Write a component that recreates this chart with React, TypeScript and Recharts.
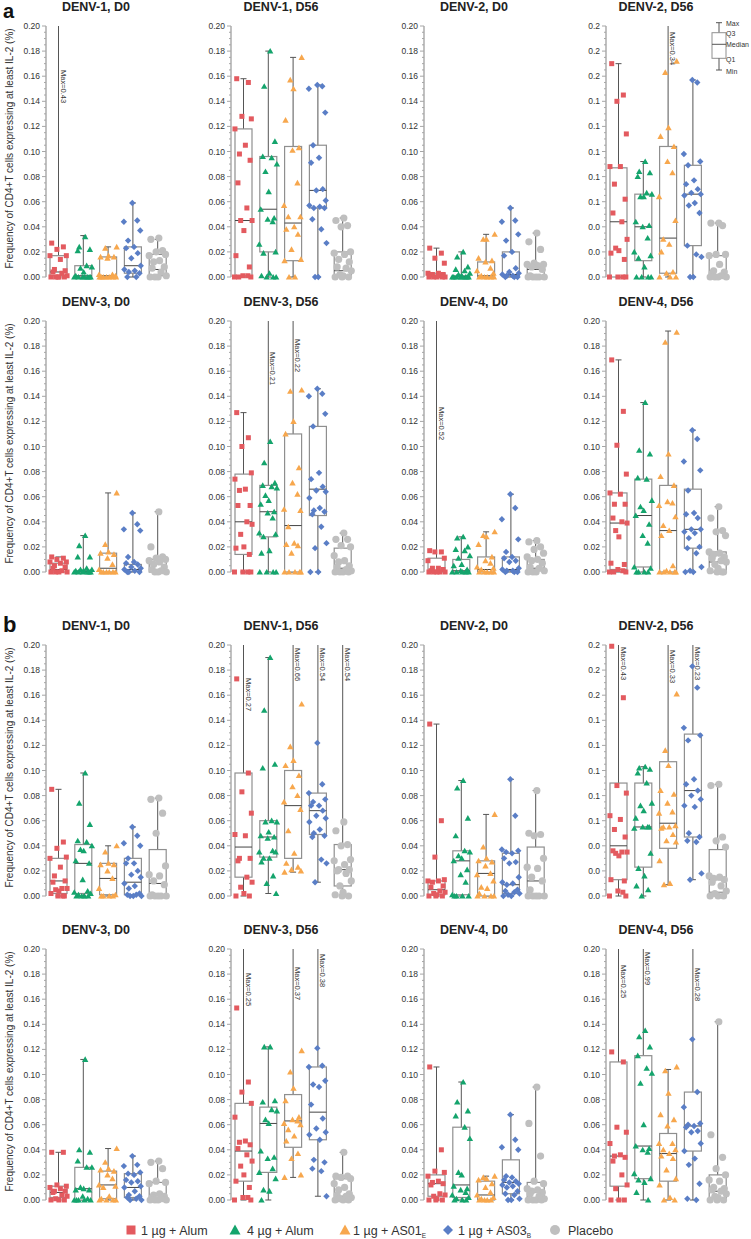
import React from "react";
import { Bar, ComposedChart, Scatter, XAxis, YAxis } from "recharts";

// groups, in the order they are drawn in every panel
const GROUPS = ["1 µg + Alum", "4 µg + Alum", "1 µg + AS01", "1 µg + AS03", "Placebo"];
const GROUP_SUB = ["", "", "E", "B", ""];
const COLORS = ["#e35a5f", "#14a46c", "#f7a74d", "#5a7ec6", "#bfbfbf"];

const TICKS = [0, 0.02, 0.04, 0.06, 0.08, 0.1, 0.12, 0.14, 0.16, 0.18, 0.2];
const Y_MAX = 0.2;
const Y_LABEL = "Frequency of CD4+T cells expressing at least IL-2 (%)";
const KEY_LABELS = ["Max", "Q3", "Median", "Q1", "Min"];

// ---- section a ----
// points per group: red, green, orange, blue, grey
const A_D1_D0 = [
  [0.027, 0.024, 0.022, 0.017, 0.017, 0.014, 0.006, 0.005, 0.004, 0.003, 0.001, 0, 0, 0, 0, 0],
  [0.032, 0.024, 0.022, 0.021, 0.009, 0.008, 0.007, 0.004, 0.001, 0, 0, 0, 0, 0, 0, 0],
  [0.024, 0.023, 0.017, 0.016, 0.016, 0.015, 0.002, 0.002, 0.001, 0, 0, 0, 0, 0, 0, 0],
  [0.059, 0.045, 0.044, 0.037, 0.029, 0.024, 0.023, 0.019, 0.015, 0.009, 0.006, 0.005, 0.004, 0.003, 0, 0],
  [0.031, 0.03, 0.021, 0.02, 0.018, 0.017, 0.013, 0.012, 0.008, 0.007, 0.004, 0.001, 0, 0, 0],
];
// [min, q1, median, q3, max]
const A_D1_D0_BOX = [[0, 0.001, 0.004, 0.017, 0.43], [0, 0, 0.001, 0.009, 0.033], [0, 0, 0.001, 0.016, 0.024], [0, 0.003, 0.009, 0.024, 0.059], [0, 0.001, 0.006, 0.018, 0.03]];

const A_D1_D56 = [
  [0.158, 0.155, 0.128, 0.126, 0.118, 0.105, 0.098, 0.093, 0.075, 0.055, 0.045, 0.045, 0.037, 0.017, 0.008, 0.001, 0.001, 0, 0, 0],
  [0.18, 0.152, 0.108, 0.096, 0.095, 0.09, 0.084, 0.068, 0.054, 0.047, 0.046, 0.044, 0.026, 0.02, 0.019, 0.003, 0.001, 0, 0, 0],
  [0.175, 0.157, 0.15, 0.125, 0.103, 0.101, 0.075, 0.057, 0.048, 0.048, 0.04, 0.038, 0.034, 0.022, 0.014, 0.013, 0, 0],
  [0.153, 0.152, 0.15, 0.131, 0.105, 0.095, 0.091, 0.07, 0.069, 0.061, 0.057, 0.056, 0.055, 0.055, 0.046, 0.038, 0.027, 0, 0],
  [0.047, 0.045, 0.041, 0.04, 0.02, 0.019, 0.018, 0.014, 0.012, 0.008, 0.007, 0.005, 0.002, 0.001, 0, 0, 0],
];
const A_D1_D56_BOX = [[0, 0.001, 0.045, 0.118, 0.158], [0, 0.02, 0.054, 0.096, 0.18], [0, 0.013, 0.043, 0.104, 0.175], [0, 0.055, 0.069, 0.105, 0.153], [0, 0.001, 0.005, 0.02, 0.047]];

const A_D2_D0 = [
  [0.023, 0.019, 0.015, 0.011, 0.003, 0.003, 0.002, 0.002, 0.002, 0.001, 0, 0, 0, 0, 0],
  [0.02, 0.016, 0.008, 0.006, 0.005, 0.003, 0.002, 0.001, 0, 0, 0, 0, 0, 0, 0, 0],
  [0.034, 0.03, 0.03, 0.015, 0.013, 0.012, 0.007, 0.005, 0.003, 0.001, 0, 0, 0, 0, 0],
  [0.055, 0.045, 0.044, 0.034, 0.029, 0.02, 0.017, 0.007, 0.004, 0.003, 0.002, 0.001, 0.001, 0, 0, 0],
  [0.035, 0.028, 0.022, 0.011, 0.01, 0.01, 0.009, 0.008, 0.006, 0.001, 0, 0, 0, 0, 0],
];
const A_D2_D0_BOX = [[0, 0, 0.001, 0.003, 0.023], [0, 0, 0.0003, 0.001, 0.02], [0, 0, 0.001, 0.012, 0.034], [0, 0.001, 0.002, 0.02, 0.055], [0, 0, 0.006, 0.009, 0.035]];

const A_D2_D56 = [
  [0.17, 0.145, 0.14, 0.114, 0.088, 0.088, 0.074, 0.062, 0.051, 0.044, 0.03, 0.023, 0.021, 0.019, 0.014, 0, 0, 0, 0],
  [0.092, 0.084, 0.083, 0.08, 0.067, 0.066, 0.064, 0.064, 0.044, 0.041, 0.04, 0.031, 0.02, 0.017, 0.015, 0.008, 0, 0, 0, 0],
  [0.172, 0.163, 0.119, 0.112, 0.104, 0.092, 0.083, 0.064, 0.045, 0.03, 0.026, 0.02, 0.004, 0.003, 0, 0, 0],
  [0.157, 0.155, 0.098, 0.092, 0.089, 0.077, 0.074, 0.07, 0.067, 0.066, 0.065, 0.059, 0.057, 0.051, 0.025, 0.018, 0.016, 0, 0],
  [0.043, 0.043, 0.041, 0.018, 0.018, 0.017, 0.01, 0.005, 0.004, 0.003, 0.001, 0, 0, 0, 0],
];
const A_D2_D56_BOX = [[0, 0, 0.044, 0.087, 0.17], [0, 0.013, 0.04, 0.066, 0.092], [0, 0.003, 0.031, 0.104, 0.34], [0, 0.025, 0.066, 0.089, 0.157], [0, 0, 0.001, 0.017, 0.043]];

const A_D3_D0 = [
  [0.012, 0.011, 0.01, 0.008, 0.008, 0.007, 0.005, 0.004, 0.003, 0.001, 0, 0, 0, 0],
  [0.029, 0.021, 0.012, 0.012, 0.003, 0.002, 0.002, 0.001, 0.001, 0, 0, 0, 0, 0, 0],
  [0.063, 0.022, 0.016, 0.015, 0.014, 0.011, 0.006, 0.002, 0, 0, 0, 0, 0, 0],
  [0.047, 0.038, 0.034, 0.033, 0.012, 0.008, 0.007, 0.006, 0.004, 0.003, 0.002, 0.001, 0, 0, 0],
  [0.048, 0.02, 0.012, 0.011, 0.01, 0.009, 0.008, 0.006, 0.004, 0.002, 0.001, 0, 0, 0],
];
const A_D3_D0_BOX = [[0, 0, 0.002, 0.007, 0.012], [0, 0, 0.0005, 0.001, 0.029], [0, 0, 0.003, 0.015, 0.063], [0, 0.0005, 0.002, 0.006, 0.047], [0, 0, 0.002, 0.01, 0.048]];

const A_D3_D56 = [
  [0.127, 0.107, 0.1, 0.079, 0.074, 0.066, 0.065, 0.053, 0.053, 0.04, 0.038, 0.03, 0.02, 0.019, 0.014, 0, 0, 0, 0],
  [0.104, 0.087, 0.071, 0.069, 0.068, 0.067, 0.061, 0.057, 0.054, 0.048, 0.047, 0.043, 0.031, 0.03, 0.028, 0.017, 0.015, 0, 0, 0, 0],
  [0.145, 0.144, 0.12, 0.11, 0.083, 0.071, 0.062, 0.05, 0.049, 0.036, 0.023, 0.022, 0.021, 0.015, 0, 0, 0, 0, 0],
  [0.146, 0.142, 0.14, 0.126, 0.116, 0.079, 0.074, 0.068, 0.065, 0.064, 0.059, 0.051, 0.049, 0.048, 0.046, 0.036, 0.023, 0.019, 0, 0],
  [0.031, 0.026, 0.026, 0.021, 0.02, 0.013, 0.009, 0.008, 0.005, 0.004, 0.002, 0.001, 0, 0, 0, 0],
];
const A_D3_D56_BOX = [[0, 0.014, 0.04, 0.078, 0.127], [0, 0.028, 0.048, 0.069, 0.21], [0, 0, 0.037, 0.11, 0.22], [0, 0.045, 0.066, 0.116, 0.146], [0, 0.001, 0.003, 0.019, 0.031]];

const A_D4_D0 = [
  [0.017, 0.016, 0.016, 0.011, 0.009, 0.003, 0.003, 0.002, 0.001, 0, 0, 0, 0, 0],
  [0.028, 0.027, 0.02, 0.018, 0.017, 0.013, 0.011, 0.006, 0.005, 0.002, 0.001, 0, 0, 0, 0, 0],
  [0.032, 0.029, 0.028, 0.022, 0.012, 0.009, 0.007, 0.004, 0.003, 0.002, 0, 0, 0, 0, 0],
  [0.062, 0.051, 0.042, 0.026, 0.016, 0.012, 0.011, 0.009, 0.008, 0.003, 0.002, 0.001, 0.001, 0, 0, 0],
  [0.025, 0.024, 0.02, 0.018, 0.015, 0.012, 0.01, 0.009, 0.007, 0.004, 0.003, 0.001, 0, 0, 0],
];
const A_D4_D0_BOX = [[0, 0, 0.001, 0.011, 0.52], [0, 0, 0.001, 0.01, 0.028], [0, 0, 0.002, 0.012, 0.032], [0, 0.001, 0.002, 0.012, 0.062], [0, 0.001, 0.003, 0.01, 0.025]];

const A_D4_D56 = [
  [0.169, 0.128, 0.101, 0.078, 0.063, 0.062, 0.054, 0.054, 0.043, 0.04, 0.039, 0.033, 0.028, 0.007, 0.006, 0.002, 0.001, 0, 0, 0],
  [0.135, 0.097, 0.094, 0.075, 0.074, 0.057, 0.052, 0.049, 0.045, 0.038, 0.029, 0.023, 0.004, 0.003, 0, 0, 0, 0],
  [0.191, 0.183, 0.094, 0.076, 0.069, 0.056, 0.055, 0.053, 0.044, 0.037, 0.033, 0.029, 0.005, 0.001, 0, 0, 0, 0, 0],
  [0.113, 0.106, 0.088, 0.081, 0.065, 0.047, 0.046, 0.043, 0.034, 0.034, 0.032, 0.031, 0.027, 0.02, 0.019, 0.015, 0.004, 0.001, 0, 0],
  [0.052, 0.043, 0.033, 0.032, 0.029, 0.016, 0.015, 0.014, 0.012, 0.011, 0.009, 0.008, 0.006, 0.003, 0.001, 0, 0, 0],
];
const A_D4_D56_BOX = [[0, 0.002, 0.039, 0.063, 0.169], [0, 0.004, 0.045, 0.074, 0.135], [0, 0, 0.033, 0.069, 0.192], [0, 0.019, 0.034, 0.066, 0.113], [0, 0, 0.008, 0.016, 0.052]];

// ---- section b ----
const B_D1_D0 = [
  [0.085, 0.043, 0.038, 0.031, 0.03, 0.023, 0.016, 0.012, 0.011, 0.006, 0.006, 0.005, 0.004, 0.002, 0, 0, 0],
  [0.098, 0.074, 0.057, 0.044, 0.043, 0.04, 0.037, 0.036, 0.028, 0.026, 0.013, 0.004, 0.003, 0.002, 0.001, 0, 0, 0, 0],
  [0.04, 0.035, 0.026, 0.025, 0.025, 0.02, 0.014, 0.006, 0.001, 0, 0, 0, 0],
  [0.055, 0.048, 0.042, 0.04, 0.03, 0.026, 0.026, 0.02, 0.017, 0.015, 0.01, 0.008, 0.006, 0.002, 0.001, 0.001, 0, 0, 0],
  [0.078, 0.077, 0.066, 0.05, 0.024, 0.017, 0.016, 0.012, 0.009, 0.001, 0, 0, 0, 0, 0],
];
const B_D1_D0_BOX = [[0, 0.002, 0.012, 0.03, 0.085], [0, 0.002, 0.026, 0.041, 0.098], [0, 0.001, 0.014, 0.026, 0.04], [0, 0.001, 0.011, 0.03, 0.055], [0, 0, 0.01, 0.037, 0.078]];

const B_D1_D56 = [
  [0.173, 0.098, 0.083, 0.066, 0.049, 0.048, 0.03, 0.03, 0.028, 0.015, 0.011, 0.007, 0.002, 0, 0],
  [0.19, 0.148, 0.105, 0.102, 0.06, 0.059, 0.059, 0.051, 0.048, 0.047, 0.046, 0.036, 0.035, 0.035, 0.03, 0.03, 0.027, 0.016, 0.01, 0.002],
  [0.153, 0.119, 0.108, 0.104, 0.096, 0.087, 0.08, 0.075, 0.069, 0.052, 0.034, 0.026, 0.023, 0.021, 0.02, 0.019],
  [0.122, 0.089, 0.082, 0.077, 0.075, 0.072, 0.072, 0.068, 0.064, 0.062, 0.059, 0.053, 0.05, 0.048, 0.047, 0.029, 0.026, 0.011],
  [0.059, 0.052, 0.041, 0.04, 0.029, 0.028, 0.025, 0.021, 0.021, 0.02, 0.018, 0.012, 0.008, 0.003, 0.001, 0, 0],
];
const B_D1_D56_BOX = [[0, 0.015, 0.039, 0.098, 0.27], [0.002, 0.031, 0.047, 0.06, 0.19], [0.019, 0.03, 0.072, 0.1, 0.66], [0.011, 0.049, 0.068, 0.082, 0.54], [0, 0.008, 0.021, 0.041, 0.54]];

const B_D2_D0 = [
  [0.137, 0.06, 0.031, 0.013, 0.012, 0.012, 0.011, 0.008, 0.007, 0.004, 0.003, 0.002, 0.001, 0, 0, 0],
  [0.092, 0.086, 0.062, 0.048, 0.036, 0.035, 0.032, 0.03, 0.028, 0.021, 0.017, 0.011, 0.001, 0, 0, 0, 0],
  [0.065, 0.039, 0.03, 0.028, 0.027, 0.024, 0.018, 0.017, 0.012, 0.007, 0.006, 0.002, 0, 0, 0, 0],
  [0.093, 0.064, 0.037, 0.036, 0.035, 0.034, 0.03, 0.027, 0.026, 0.015, 0.011, 0.01, 0.009, 0.005, 0.004, 0.003, 0.002, 0.001, 0, 0],
  [0.084, 0.05, 0.049, 0.048, 0.03, 0.023, 0.022, 0.015, 0.012, 0.005, 0, 0, 0, 0, 0],
];
const B_D2_D0_BOX = [[0, 0.001, 0.005, 0.012, 0.137], [0, 0.001, 0.028, 0.036, 0.092], [0, 0, 0.018, 0.028, 0.065], [0, 0.002, 0.009, 0.034, 0.093], [0, 0, 0.012, 0.039, 0.084]];

const B_D2_D56 = [
  [0.199, 0.158, 0.088, 0.082, 0.064, 0.061, 0.053, 0.047, 0.036, 0.035, 0.035, 0.034, 0.032, 0.013, 0.012, 0.004, 0.003, 0, 0],
  [0.103, 0.102, 0.101, 0.098, 0.09, 0.074, 0.072, 0.068, 0.062, 0.055, 0.055, 0.055, 0.054, 0.034, 0.022, 0.016, 0.008, 0.005, 0],
  [0.161, 0.116, 0.104, 0.084, 0.081, 0.074, 0.067, 0.066, 0.056, 0.055, 0.055, 0.054, 0.049, 0.044, 0.043, 0.028, 0.01, 0.009],
  [0.183, 0.166, 0.134, 0.128, 0.124, 0.093, 0.089, 0.084, 0.08, 0.077, 0.072, 0.071, 0.05, 0.047, 0.044, 0.043, 0.018, 0.013],
  [0.089, 0.088, 0.047, 0.044, 0.039, 0.016, 0.015, 0.014, 0.013, 0.011, 0.008, 0.004, 0.002, 0, 0, 0],
];
const B_D2_D56_BOX = [[0, 0.013, 0.04, 0.09, 0.43], [0, 0.023, 0.055, 0.09, 0.103], [0.009, 0.038, 0.058, 0.107, 0.33], [0.013, 0.047, 0.084, 0.129, 0.23], [0, 0.003, 0.013, 0.037, 0.089]];

const B_D3_D0 = [
  [0.038, 0.038, 0.012, 0.011, 0.01, 0.009, 0.007, 0.007, 0.006, 0.004, 0.003, 0.001, 0, 0, 0],
  [0.112, 0.04, 0.038, 0.031, 0.026, 0.026, 0.01, 0.009, 0.008, 0.008, 0.003, 0.001, 0, 0, 0, 0, 0],
  [0.041, 0.03, 0.025, 0.024, 0.023, 0.02, 0.017, 0.012, 0.011, 0.01, 0.003, 0.001, 0, 0, 0, 0],
  [0.035, 0.028, 0.027, 0.022, 0.021, 0.02, 0.016, 0.015, 0.014, 0.011, 0.01, 0.007, 0.004, 0.003, 0.002, 0.001, 0, 0],
  [0.031, 0.03, 0.025, 0.015, 0.014, 0.013, 0.005, 0.004, 0.003, 0.002, 0.001, 0, 0, 0, 0],
];
const B_D3_D0_BOX = [[0, 0.002, 0.006, 0.011, 0.038], [0, 0, 0.009, 0.026, 0.112], [0, 0.001, 0.012, 0.023, 0.041], [0, 0.002, 0.01, 0.021, 0.035], [0, 0, 0.002, 0.014, 0.031]];

const B_D3_D56 = [
  [0.153, 0.094, 0.086, 0.077, 0.066, 0.047, 0.046, 0.044, 0.041, 0.036, 0.031, 0.027, 0.02, 0.015, 0.01, 0.002, 0.002, 0, 0],
  [0.122, 0.122, 0.079, 0.078, 0.072, 0.071, 0.064, 0.061, 0.039, 0.034, 0.033, 0.025, 0.022, 0.017, 0.008, 0.007, 0],
  [0.119, 0.102, 0.089, 0.079, 0.066, 0.064, 0.063, 0.061, 0.06, 0.056, 0.051, 0.047, 0.037, 0.033, 0.02, 0.018],
  [0.121, 0.107, 0.106, 0.095, 0.092, 0.09, 0.076, 0.065, 0.057, 0.054, 0.052, 0.048, 0.032, 0.03, 0.025, 0.023, 0.003],
  [0.038, 0.019, 0.019, 0.018, 0.017, 0.013, 0.01, 0.008, 0.005, 0.004, 0.003, 0.002, 0.001, 0, 0, 0],
];
const B_D3_D56_BOX = [[0, 0.015, 0.039, 0.077, 0.25], [0, 0.022, 0.061, 0.074, 0.122], [0.018, 0.042, 0.063, 0.084, 0.37], [0.003, 0.048, 0.07, 0.106, 0.38], [0, 0.001, 0.003, 0.017, 0.038]];

const B_D4_D0 = [
  [0.106, 0.04, 0.023, 0.022, 0.019, 0.015, 0.014, 0.013, 0.012, 0.005, 0.004, 0.003, 0.001, 0, 0, 0],
  [0.094, 0.078, 0.071, 0.067, 0.058, 0.049, 0.022, 0.02, 0.011, 0.009, 0.008, 0.006, 0.004, 0.002, 0.001, 0, 0, 0],
  [0.019, 0.018, 0.017, 0.016, 0.013, 0.01, 0.006, 0.004, 0.002, 0.001, 0, 0, 0, 0],
  [0.068, 0.048, 0.042, 0.04, 0.019, 0.018, 0.016, 0.015, 0.014, 0.013, 0.012, 0.011, 0.01, 0.007, 0.005, 0.004, 0.001, 0, 0],
  [0.09, 0.061, 0.035, 0.015, 0.013, 0.009, 0.008, 0.007, 0.006, 0.005, 0.003, 0.001, 0, 0, 0, 0],
];
const B_D4_D0_BOX = [[0, 0.003, 0.013, 0.02, 0.106], [0, 0.002, 0.012, 0.058, 0.094], [0, 0, 0.004, 0.015, 0.019], [0, 0.005, 0.014, 0.032, 0.068], [0, 0.001, 0.006, 0.014, 0.09]];

const B_D4_D56 = [
  [0.118, 0.11, 0.058, 0.054, 0.045, 0.036, 0.035, 0.034, 0.031, 0.02, 0.012, 0.009, 0, 0, 0],
  [0.135, 0.13, 0.122, 0.115, 0.105, 0.101, 0.093, 0.06, 0.043, 0.041, 0.04, 0.038, 0.021, 0.017, 0.016, 0.014, 0.006, 0],
  [0.106, 0.103, 0.085, 0.068, 0.064, 0.059, 0.045, 0.045, 0.04, 0.04, 0.037, 0.035, 0.033, 0.024, 0.017, 0.012, 0.002, 0, 0],
  [0.128, 0.086, 0.074, 0.061, 0.06, 0.059, 0.058, 0.055, 0.054, 0.045, 0.039, 0.033, 0.028, 0.013, 0.001, 0],
  [0.142, 0.052, 0.034, 0.025, 0.02, 0.016, 0.015, 0.01, 0.009, 0.008, 0.007, 0.005, 0.003, 0.002, 0, 0, 0],
];
const B_D4_D56_BOX = [[0, 0.011, 0.035, 0.11, 0.25], [0, 0.017, 0.043, 0.115, 0.99], [0, 0.015, 0.037, 0.053, 0.104], [0, 0.039, 0.059, 0.086, 0.28], [0, 0.001, 0.007, 0.02, 0.142]];

const PANELS = [
  { title: "DENV-1, D0", points: A_D1_D0, boxes: A_D1_D0_BOX },
  { title: "DENV-1, D56", points: A_D1_D56, boxes: A_D1_D56_BOX },
  { title: "DENV-2, D0", points: A_D2_D0, boxes: A_D2_D0_BOX },
  { title: "DENV-2, D56", points: A_D2_D56, boxes: A_D2_D56_BOX, roundTicks: true },
  { title: "DENV-3, D0", points: A_D3_D0, boxes: A_D3_D0_BOX },
  { title: "DENV-3, D56", points: A_D3_D56, boxes: A_D3_D56_BOX },
  { title: "DENV-4, D0", points: A_D4_D0, boxes: A_D4_D0_BOX },
  { title: "DENV-4, D56", points: A_D4_D56, boxes: A_D4_D56_BOX },
  { title: "DENV-1, D0", points: B_D1_D0, boxes: B_D1_D0_BOX },
  { title: "DENV-1, D56", points: B_D1_D56, boxes: B_D1_D56_BOX },
  { title: "DENV-2, D0", points: B_D2_D0, boxes: B_D2_D0_BOX },
  { title: "DENV-2, D56", points: B_D2_D56, boxes: B_D2_D56_BOX, roundTicks: true },
  { title: "DENV-3, D0", points: B_D3_D0, boxes: B_D3_D0_BOX },
  { title: "DENV-3, D56", points: B_D3_D56, boxes: B_D3_D56_BOX },
  { title: "DENV-4, D0", points: B_D4_D0, boxes: B_D4_D0_BOX },
  { title: "DENV-4, D56", points: B_D4_D56, boxes: B_D4_D56_BOX },
];

// ---- layout ----
const COL_X = [46, 231, 424, 606]; // plot left edge per column
const ROW_Y = [26, 321, 645, 949]; // plot top edge per row
const PLOT_W = 124;
const PLOT_H = 251;
const AXIS_W = 30;
const PAD_T = 5;
const PAD_B = 5;
const PAD_R = 8;
const BOX_W = 17;
// horizontal spread of points inside a group, in group widths
const JITTER = [-0.27, 0.2, -0.06, 0.32, -0.34, 0.08, -0.16, 0.27, -0.22, 0.14, 0.35, -0.11, 0.02, -0.3, 0.24, -0.02, 0.18, -0.36, 0.3, -0.19, 0.05];
// px below the plot top where each "Max=" note starts ("panel-group")
const MAX_NOTE_DROP: Record<string, number> = {
  "0-0": 44, "3-2": 6, "5-1": 31, "5-2": 18, "6-0": 86,
  "9-0": 33, "9-2": 3, "9-3": 3, "9-4": 3,
  "11-0": 2, "11-2": 5, "11-3": 2,
  "13-0": 24, "13-2": 18, "13-3": 5,
  "15-0": 16, "15-1": 3, "15-3": 19,
};
const LEGEND_MARK_X = [131, 235, 345, 448, 555];
const LEGEND_TEXT_X = [141, 247, 353, 458, 568];

const FONT = "'Liberation Sans', Arial, Helvetica, sans-serif";
const AXIS = "#a6a6a6";
const WHISKER = "#555";
const BOX_EDGE = "#8f8f8f";
const TEXT = "#222";

const MINOR_TICKS = Array.from({ length: 41 }, (_, i) => Math.round(i * 5) / 1000);

const makeTick = (decimals: number) => (p: any) => {
  const { x, y, payload } = p;
  const v = payload.value as number;
  const major = TICKS.some((t) => Math.abs(t - v) < 1e-9);
  return (
    <g>
      <line x1={x - (major ? 4 : 2)} x2={x} y1={y} y2={y} stroke={AXIS} strokeWidth={1} />
      {major && (
        <text x={x - 6} y={y} dy={3} textAnchor="end" fontSize={8.5} fill="#333" fontFamily={FONT}>
          {v.toFixed(decimals)}
        </text>
      )}
    </g>
  );
};

const makeWhisker = (panelIdx: number) => (p: any) => {
  const { x, y, width, height, payload } = p;
  if (x == null || y == null) return <g />;
  const cx = x + width / 2;
  const top = Math.min(y, y + height);
  const bot = Math.max(y, y + height);
  const over = payload.max > Y_MAX;
  const drop = MAX_NOTE_DROP[`${panelIdx}-${payload.g}`] ?? 5;
  return (
    <g>
      <line x1={cx} x2={cx} y1={top} y2={bot} stroke={WHISKER} strokeWidth={1} />
      {!over && <line x1={cx - 3} x2={cx + 3} y1={top} y2={top} stroke={WHISKER} strokeWidth={1} />}
      <line x1={cx - 3} x2={cx + 3} y1={bot} y2={bot} stroke={WHISKER} strokeWidth={1} />
      {over && (
        <text transform={`translate(${cx + 2},${top + drop}) rotate(90)`} fontSize={7.5} fill="#333" fontFamily={FONT}>
          {`Max=${payload.max.toFixed(2)}`}
        </text>
      )}
    </g>
  );
};

const renderBox = (p: any) => {
  const { x, y, width, height, payload } = p;
  if (x == null || y == null) return <g />;
  const top = Math.min(y, y + height);
  const h = Math.abs(height);
  const span = payload.q3 - payload.q1;
  const my = span > 0 ? top + (h * (payload.q3 - payload.median)) / span : top;
  return (
    <g>
      <rect x={x} y={top} width={width} height={h} fill="#fff" stroke={BOX_EDGE} strokeWidth={1.2} />
      <line x1={x} x2={x + width} y1={my} y2={my} stroke="#444" strokeWidth={1} />
    </g>
  );
};

const makeMarker = (g: number) => (p: any) => {
  const { cx, cy } = p;
  if (cx == null || cy == null) return <g />;
  const c = COLORS[g];
  if (g === 0) return <rect x={cx - 2.5} y={cy - 2.5} width={5} height={5} fill={c} />;
  if (g === 1 || g === 2)
    return <polygon points={`${cx},${cy - 3.1} ${cx + 3.2},${cy + 2.5} ${cx - 3.2},${cy + 2.5}`} fill={c} />;
  if (g === 3)
    return <polygon points={`${cx},${cy - 3.2} ${cx + 3.2},${cy} ${cx},${cy + 3.2} ${cx - 3.2},${cy}`} fill={c} />;
  return <circle cx={cx} cy={cy} r={3.6} fill={c} />;
};

const Panel = ({ idx }: { idx: number }) => {
  const panel = PANELS[idx];
  const col = idx % 4;
  const row = Math.floor(idx / 4);
  const boxes = panel.boxes.map((b, g) => ({
    name: GROUPS[g],
    g,
    min: b[0],
    q1: b[1],
    median: b[2],
    q3: b[3],
    max: b[4],
  }));
  return (
    <div style={{ position: "absolute", left: COL_X[col] - AXIS_W, top: ROW_Y[row] - PAD_T }}>
      <ComposedChart
        width={AXIS_W + PLOT_W + PAD_R}
        height={PAD_T + PLOT_H + PAD_B + 1}
        data={boxes}
        margin={{ top: PAD_T, right: PAD_R, bottom: PAD_B, left: 0 }}
      >
        <XAxis xAxisId="w" dataKey="name" type="category" tick={false} tickLine={false} height={1} axisLine={{ stroke: AXIS, strokeWidth: 1.4 }} />
        <XAxis xAxisId="b" dataKey="name" type="category" hide />
        <XAxis xAxisId="s" dataKey="x" type="number" domain={[0.5, 5.5]} allowDataOverflow hide />
        <YAxis
          domain={[0, Y_MAX]}
          ticks={MINOR_TICKS}
          interval={0}
          width={AXIS_W}
          tickSize={0}
          tickMargin={0}
          tickLine={false}
          axisLine={{ stroke: AXIS, strokeWidth: 1.4 }}
          tick={makeTick(panel.roundTicks ? 1 : 2)}
        />
        <Bar
          xAxisId="w"
          dataKey={(d: any) => [d.min, Math.min(d.max, Y_MAX)]}
          barSize={BOX_W}
          shape={makeWhisker(idx)}
          isAnimationActive={false}
        />
        <Bar xAxisId="b" dataKey={(d: any) => [d.q1, d.q3]} barSize={BOX_W} shape={renderBox} isAnimationActive={false} />
        {panel.points.map((vals, g) => (
          <Scatter
            key={g}
            xAxisId="s"
            dataKey="y"
            data={vals.map((v, i) => ({ x: g + 1 + JITTER[(i + g * 5) % JITTER.length], y: v }))}
            shape={makeMarker(g)}
            isAnimationActive={false}
          />
        ))}
      </ComposedChart>
    </div>
  );
};

const LegendMark = ({ g, cx, cy }: { g: number; cx: number; cy: number }) => {
  const c = COLORS[g];
  if (g === 0) return <rect x={cx - 4.5} y={cy - 4.5} width={9} height={9} fill={c} />;
  if (g === 1 || g === 2)
    return <polygon points={`${cx},${cy - 5.5} ${cx + 5.5},${cy + 4.5} ${cx - 5.5},${cy + 4.5}`} fill={c} />;
  if (g === 3) return <polygon points={`${cx},${cy - 5} ${cx + 5},${cy} ${cx},${cy + 5} ${cx - 5},${cy}`} fill={c} />;
  return <circle cx={cx} cy={cy} r={5} fill={c} />;
};

const Overlay = () => (
  <svg width={751} height={1239} style={{ position: "absolute", left: 0, top: 0 }}>
    <text x={3} y={18} fontSize={20} fontWeight="bold" fontFamily={FONT} fill="#111">a</text>
    <text x={3} y={632} fontSize={22} fontWeight="bold" fontFamily={FONT} fill="#111">b</text>
    {PANELS.map((p, i) => (
      <text
        key={i}
        x={COL_X[i % 4] + 50}
        y={ROW_Y[Math.floor(i / 4)] - 15}
        textAnchor="middle"
        fontSize={12.5}
        fontWeight="bold"
        fontFamily={FONT}
        fill={TEXT}
      >
        {p.title}
      </text>
    ))}
    {ROW_Y.map((ry, r) => (
      <text
        key={r}
        transform={`translate(13,${ry + PLOT_H / 2 - 3}) rotate(-90)`}
        textAnchor="middle"
        fontSize={10}
        fontFamily={FONT}
        fill="#333"
      >
        {Y_LABEL}
      </text>
    ))}
    {/* box key, top right */}
    <g stroke={WHISKER} strokeWidth={1} fill="none">
      <line x1={716} x2={722} y1={22.7} y2={22.7} />
      <line x1={719} x2={719} y1={22.7} y2={32.7} />
      <rect x={712} y={32.7} width={14} height={25.6} stroke={BOX_EDGE} />
      <line x1={712} x2={726} y1={44.3} y2={44.3} />
      <line x1={719} x2={719} y1={58.3} y2={70} />
      <line x1={716} x2={722} y1={70} y2={70} />
    </g>
    {KEY_LABELS.map((t, i) => (
      <text key={t} x={726} y={[25.5, 36, 47, 62, 73.5][i]} fontSize={7} fontFamily={FONT} fill="#333">
        {t}
      </text>
    ))}
    {GROUPS.map((name, g) => (
      <g key={name}>
        <LegendMark g={g} cx={LEGEND_MARK_X[g]} cy={1230} />
        <text x={LEGEND_TEXT_X[g]} y={1234.5} fontSize={12.5} fontFamily={FONT} fill="#333">
          {name}
          {GROUP_SUB[g] && (
            <tspan fontSize={6.5} dy={3}>
              {GROUP_SUB[g]}
            </tspan>
          )}
        </text>
      </g>
    ))}
  </svg>
);

export default function App() {
  return (
    <div style={{ position: "absolute", left: 0, top: 0, width: 751, height: 1239, background: "#fff", fontFamily: FONT }}>
      <Overlay />
      {PANELS.map((_, i) => (
        <Panel key={i} idx={i} />
      ))}
    </div>
  );
}
